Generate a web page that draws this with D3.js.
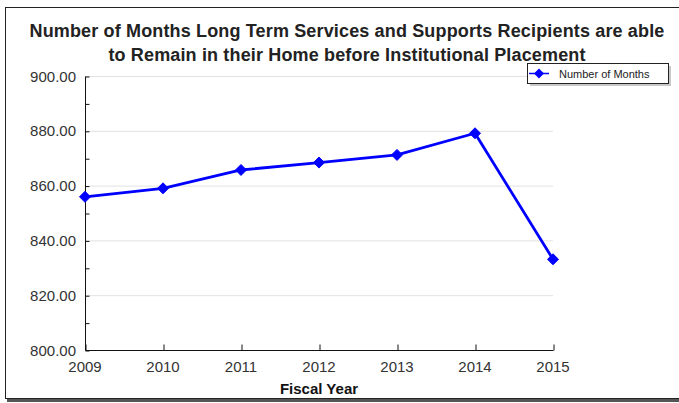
<!DOCTYPE html>
<html><head><meta charset="utf-8">
<script src="https://cdn.jsdelivr.net/npm/d3@7"></script>
<style>
body{margin:0;background:#fff;}
svg{display:block;font-family:"Liberation Sans",Arial,sans-serif;}
</style></head>
<body>
<svg id="chart" width="679" height="403"></svg>
<script>
const years = [2009, 2010, 2011, 2012, 2013, 2014, 2015];
const months = [855.9, 859.0, 865.7, 868.4, 871.2, 879.1, 833.1];
const yTicks = [800, 820, 840, 860, 880, 900];
const yMinorTicks = [800, 810, 820, 830, 840, 850, 860, 870, 880, 890, 900];
const titleLines = ["Number of Months Long Term Services and Supports Recipients are able",
                    "to Remain in their Home before Institutional Placement"];
const seriesName = "Number of Months";
const xTitle = "Fiscal Year";

const svg = d3.select("#chart");
const W = 679, H = 403;
const L = 85, R = 553, T = 76, B = 350;

// outer frame with shadow
svg.append("rect").attr("x", 7).attr("y", 9).attr("width", W).attr("height", 393).attr("fill", "#555");
svg.append("rect").attr("x", 5.5).attr("y", 7.5).attr("width", W + 5).attr("height", 391)
  .attr("fill", "#fff").attr("stroke", "#222").attr("stroke-width", 1);

const x = d3.scaleLinear().domain([2009, 2015]).range([L, R]);
const y = d3.scaleLinear().domain([800, 900]).range([B, T]);

// gridlines
svg.append("g").selectAll("line").data(yTicks.filter(d => d > 800)).join("line")
  .attr("x1", L).attr("x2", R).attr("y1", d => y(d) + 0.5).attr("y2", d => y(d) + 0.5)
  .attr("stroke", "#e2e2e2").attr("stroke-width", 1);

// y axis
const yAxis = d3.axisRight(y).tickValues(yMinorTicks).tickSize(4).tickFormat("");
const gy = svg.append("g").attr("transform", `translate(${L + 0.5},0.5)`).call(yAxis);
gy.select(".domain").attr("stroke", "#111").attr("d", `M0,${T}V${B}`);
gy.selectAll(".tick line").attr("stroke", "#111");
svg.append("g").selectAll("text").data(yTicks).join("text")
  .attr("x", 76).attr("y", d => y(d) + 5.5).attr("text-anchor", "end")
  .attr("font-size", 15).attr("fill", "#333").text(d3.format(".2f"));

// x axis
const xAxis = d3.axisTop(x).tickValues(years).tickSize(6).tickFormat("");
const gx = svg.append("g").attr("transform", `translate(0.5,${B + 0.5})`).call(xAxis);
gx.select(".domain").attr("stroke", "#111").attr("d", `M${L},0H${R}`);
gx.selectAll(".tick line").attr("stroke", "#111");
svg.append("g").selectAll("text").data(years).join("text")
  .attr("x", d => x(d)).attr("y", 372).attr("text-anchor", "middle")
  .attr("font-size", 15).attr("fill", "#333").text(d => d);

svg.append("text").attr("x", (L + R) / 2).attr("y", 394).attr("text-anchor", "middle")
  .attr("font-size", 15).attr("font-weight", "bold").attr("fill", "#111").text(xTitle);

// title
svg.append("g").selectAll("text").data(titleLines).join("text")
  .attr("x", 347).attr("y", (d, i) => 37 + i * 24).attr("text-anchor", "middle")
  .attr("font-size", 18).attr("letter-spacing", 0.15).attr("font-weight", "bold").attr("fill", "#222").text(d => d);

// line
const line = d3.line().x((d, i) => x(years[i])).y(d => y(d));
svg.append("path").datum(months).attr("d", line).attr("fill", "none")
  .attr("stroke", "#0000ff").attr("stroke-width", 2.8).attr("stroke-linejoin", "round");
const diamond = (cx, cy, r) => `M${cx},${cy - r}L${cx + r},${cy}L${cx},${cy + r}L${cx - r},${cy}Z`;
svg.append("g").selectAll("path").data(months).join("path")
  .attr("d", (d, i) => diamond(x(years[i]), y(d), 5.5)).attr("fill", "#0000ff")
  .attr("stroke", "#0000ff").attr("stroke-width", 1).attr("stroke-linejoin", "round");

// legend
const lg = svg.append("g");
lg.append("rect").attr("x", 530).attr("y", 66).attr("width", 141).attr("height", 20).attr("fill", "#c8c8c8");
lg.append("rect").attr("x", 527.5).attr("y", 63.5).attr("width", 141).attr("height", 20)
  .attr("fill", "#fff").attr("stroke", "#222").attr("stroke-width", 1);
lg.append("line").attr("x1", 529).attr("x2", 549).attr("y1", 73.5).attr("y2", 73.5)
  .attr("stroke", "#0000ff").attr("stroke-width", 1.5);
lg.append("path").attr("d", diamond(539, 73.5, 5)).attr("fill", "#0000ff");
lg.append("text").attr("x", 559).attr("y", 77.5).attr("font-size", 11).attr("fill", "#222").text(seriesName);
</script>
</body></html>
